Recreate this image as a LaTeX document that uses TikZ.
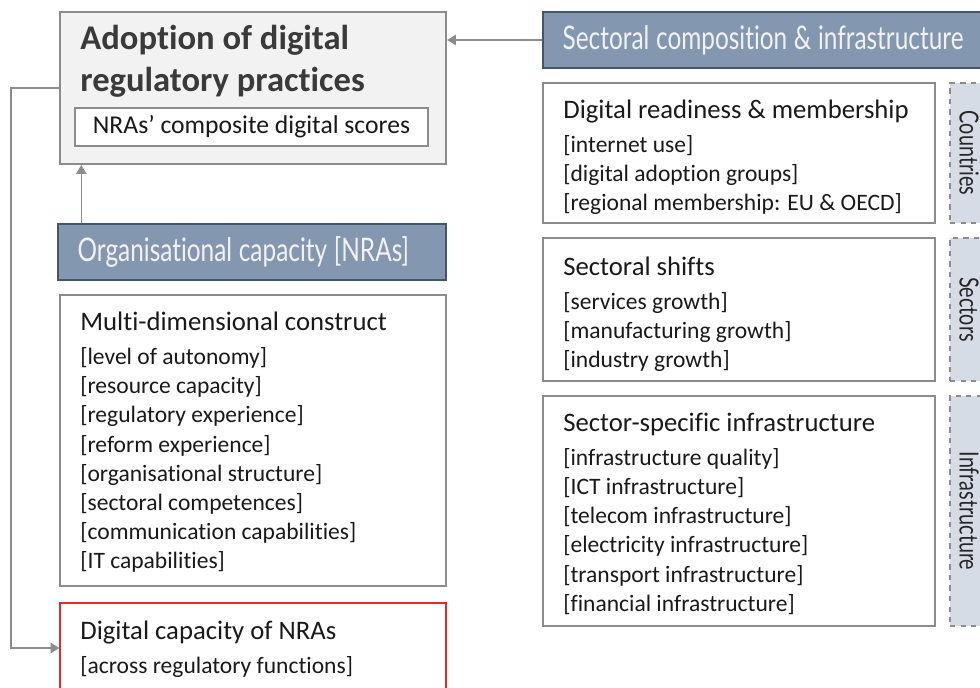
\documentclass[tikz,border=0pt]{standalone}
\usepackage{fontspec}
\setmainfont{Carlito}[Ligatures=NoCommon]
\newfontfamily\headfont[FakeStretch=0.75, Ligatures=NoCommon]{Lato}
\usetikzlibrary{arrows.meta, positioning, fit}
\definecolor{headblue}{HTML}{8497B0}
\definecolor{headedge}{HTML}{44546A}
\definecolor{edgegray}{HTML}{8C8C8C}
\definecolor{panelgray}{HTML}{F2F2F2}
\definecolor{tabblue}{HTML}{D6DCE5}
\definecolor{alertred}{HTML}{E02B2B}
\definecolor{inkgray}{HTML}{3A3A3A}
% condensed header type with tight word spacing
\newcommand{\headtype}{\headfont\fontsize{18.5}{20}\selectfont\fontdimen2\font=3.8pt\relax}
% bracketed indicator, kept safe after \\
\newcommand{\itm}[1]{{[}#1{]}}
\newcommand{\ttl}[1]{{\fontsize{15.2}{16.6}\selectfont #1}\\[2.6pt]}

\begin{document}
\begin{tikzpicture}[
    x=0.02cm, y=-0.02cm,
    panel/.style={rectangle, draw=edgegray, line width=0.8pt, inner sep=0pt},
    head/.style={rectangle, draw=headedge, fill=headblue, line width=0.8pt, inner sep=0pt},
    headtxt/.style={inner sep=0pt, text=white!95!black, font=\headtype},
    tab/.style={rectangle, draw=edgegray, dashed, fill=tabblue, line width=0.7pt, inner sep=0pt},
    tablbl/.style={rotate=-90, text=black!85, font=\headfont\fontsize{15}{18}\selectfont},
    body/.style={anchor=north west, inner sep=0pt, align=left, text=black!90,
                 font=\fontsize{13.4}{16.6}\selectfont},
    link/.style={-{Triangle[width=6pt,length=5pt]}, draw=edgegray, line width=0.8pt}
]
\useasboundingbox (0,0) rectangle (980,688);
\clip (0,0) rectangle (980,688);

% outcome
\node[panel, fill=panelgray, line width=1.3pt, fit={(60,12) (446,164)}] (adopt) {};
\node[body, text=inkgray, font=\bfseries\fontsize{19.7}{23.8}\selectfont] (adopttxt) at (80,25)
  {Adoption of digital\\regulatory practices};
\node[panel, fill=white, fit={(75,108) (428,146)}] (scores) {};
\node[font=\fontsize{14.6}{16}\selectfont, text=black!90] (scorestxt) at (scores)
  {NRAs’ composite digital scores};

% right column
\node[head, fit={(543,12) (1000,68)}] (sechead) {};
\node[headtxt, right=0.4cm of sechead.west] (secheadtxt) {Sectoral composition \& infrastructure};
\node[panel, fit={(543,83) (935,223)}] (ready) {};
\node[panel, fit={(543,238) (935,381)}] (shifts) {};
\node[panel, fit={(543,396) (935,626)}] (infra) {};
\node[tab, fit={(950,83) (988,223)}] (countries) {};
\node[tab, fit={(950,238) (988,381)}] (sectors) {};
\node[tab, fit={(950,396) (988,626)}] (infratab) {};
\node[tablbl] at (countries) {Countries};
\node[tablbl] at (sectors) {Sectors};
\node[tablbl] at (infratab) {Infrastructure};

\node[body] (readytxt) at (563,100) {\ttl{Digital readiness \& membership}
  \itm{internet use}\\\itm{digital adoption groups}\\\itm{regional membership: EU \& OECD}};
\node[body] (shiftstxt) at (563,257) {\ttl{Sectoral shifts}
  \itm{services growth}\\\itm{manufacturing growth}\\\itm{industry growth}};
\node[body] (infratxt) at (563,413) {\ttl{Sector-specific infrastructure}
  \itm{infrastructure quality}\\\itm{ICT infrastructure}\\\itm{telecom infrastructure}\\
  \itm{electricity infrastructure}\\\itm{transport infrastructure}\\\itm{financial infrastructure}};

% left column
\node[head, fit={(58,224) (446,280)}] (orghead) {};
\node[headtxt, right=0.4cm of orghead.west] (orgheadtxt) {Organisational capacity [NRAs]};
\node[panel, fit={(60,295) (446,586)}] (multi) {};
\node[panel, draw=alertred, fit={(60,603) (446,693)}] (digcap) {};
\node[body] (multitxt) at (80,312) {\ttl{Multi-dimensional construct}
  \itm{level of autonomy}\\\itm{resource capacity}\\\itm{regulatory experience}\\
  \itm{reform experience}\\\itm{organisational structure}\\\itm{sectoral competences}\\
  \itm{communication capabilities}\\\itm{IT capabilities}};
\node[body] (digcaptxt) at (80,621) {\ttl{Digital capacity of NRAs}
  \itm{across regulatory functions}};

% links
\draw[link] (sechead.west) -- (adopt.east |- sechead.west);
\path ([xshift=0.48cm]orghead.north west) coordinate (orgtop);
\draw[link] (orgtop) -- (orgtop |- adopt.south);
\draw[link] (adopt.west) -- ++(-48,0) |- (digcap.west);
\end{tikzpicture}
\end{document}
